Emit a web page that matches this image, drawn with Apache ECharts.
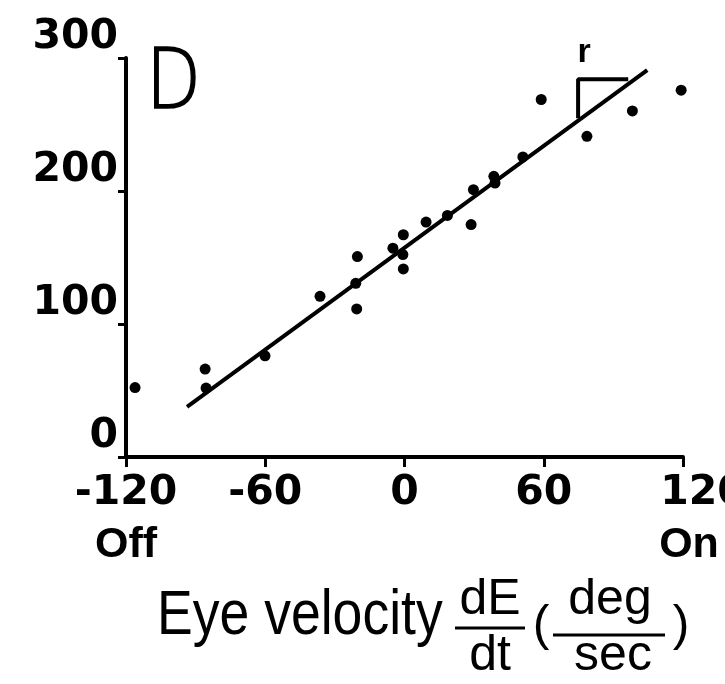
<!DOCTYPE html>
<html>
<head>
<meta charset="utf-8">
<script src="https://cdn.jsdelivr.net/npm/echarts@6/dist/echarts.min.js"></script>
<style>
html,body{margin:0;padding:0;background:#fff;}
#c{width:725px;height:684px;}
</style>
</head>
<body>
<div id="c"></div>
<script>
// Data (eye velocity deg/sec vs firing rate)
const eyeVelocity = [-116.1, -85.9, -85.5, -60.1, -36.4, -20.3, -21.0, -20.6, -5.0, -0.5, -0.7, -0.5, 9.3, 18.5, 28.7, 29.7, 38.5, 39.0, 51.0, 58.9, 78.6, 98.2, 119.2];
const firingRate  = [52.2, 66.1, 51.8, 76.1, 120.8, 150.7, 130.6, 111.3, 157.0, 167.1, 152.2, 141.4, 176.6, 181.6, 174.8, 201.0, 211.0, 206.0, 225.6, 268.8, 241.1, 260.2, 275.8];
const fitLineX = [-93.7, 104.6];
const fitLineY = [37.7, 290.9];
const rMarkX = [74.8, 74.8, 96.4];
const rMarkY = [254.7, 284, 284];
const xTickLabels = {'-120': '-120', '-60': '-60', '0': '0', '60': '60', '120': '120'};
const xSubLabels = {'-120': 'Off', '120': 'On'};
const yTickLabels = {'0': '0', '100': '100', '200': '200', '300': '300'};

const pts = eyeVelocity.map((x, i) => [x, firingRate[i]]);
const fit = fitLineX.map((x, i) => [x, fitLineY[i]]);
const rMark = rMarkX.map((x, i) => [x, rMarkY[i]]);

const chart = echarts.init(document.getElementById('c'));
const labelFont = 'DejaVu Sans';
chart.setOption({
  backgroundColor: '#fff',
  animation: false,
  grid: {left: 126, right: 42, top: 58, bottom: 227, containLabel: false, outerBoundsMode: 'none'},
  xAxis: {
    type: 'value', min: -120, max: 120, interval: 60,
    axisLine: {show: true, onZero: false, lineStyle: {color: '#000', width: 4}},
    axisTick: {show: true, length: 10, lineStyle: {color: '#000', width: 3}},
    splitLine: {show: false},
    axisLabel: {
      margin: 10,
      hideOverlap: false,
      showMinLabel: true, showMaxLabel: true,
      formatter: v => {
        const k = String(v);
        const main = xTickLabels[k];
        const sub = xSubLabels[k];
        if (k === '120') return '{e|' + main + '}\n{s2|' + sub + '}';
        return sub ? '{m|' + main + '}\n{s|' + sub + '}' : '{m|' + main + '}';
      },
      rich: {
        m: {fontFamily: labelFont, fontWeight: 'bold', fontSize: 41, color: '#000', lineHeight: 52},
        e: {fontFamily: labelFont, fontWeight: 'bold', fontSize: 41, color: '#000', lineHeight: 52, padding: [0, 0, 0, 40]},
        s: {fontFamily: 'Liberation Sans', fontWeight: 'bold', fontSize: 43, color: '#000', lineHeight: 52},
        s2: {fontFamily: 'Liberation Sans', fontWeight: 'bold', fontSize: 43, color: '#000', lineHeight: 52, padding: [0, 0, 0, 12]}
      }
    }
  },
  yAxis: {
    type: 'value', min: 0, max: 300, interval: 100,
    axisLine: {show: true, onZero: false, lineStyle: {color: '#000', width: 4}},
    axisTick: {show: true, length: 8, lineStyle: {color: '#000', width: 3}},
    splitLine: {show: false},
    axisLabel: {
      margin: 8,
      verticalAlign: 'bottom',
      fontFamily: labelFont, fontWeight: 'bold', fontSize: 41, color: '#000',
      formatter: v => yTickLabels[String(v)]
    }
  },
  series: [
    {
      type: 'line', data: fit, showSymbol: false, symbol: 'none',
      lineStyle: {color: '#000', width: 4}, silent: true, z: 2
    },
    {
      type: 'line', data: rMark, showSymbol: false, symbol: 'none',
      lineStyle: {color: '#000', width: 4}, silent: true, z: 2
    },
    {
      type: 'scatter', data: pts, symbol: 'circle', symbolSize: 11,
      itemStyle: {color: '#000', opacity: 1}, z: 3
    }
  ],
  graphic: [
    {type: 'text', x: 146, y: 86, scaleX: 0.85, style: {text: 'D', font: '200 84px "DejaVu Sans"', fill: '#000', stroke: '#000', lineWidth: 1.6, textAlign: 'left', textVerticalAlign: 'middle'}},
    {type: 'text', x: 584, y: 53, style: {text: 'r', font: 'bold 34px "Liberation Sans"', fill: '#000', textAlign: 'center', textVerticalAlign: 'middle'}},
    {type: 'text', x: 157, y: 617, scaleX: 0.85, style: {text: 'Eye velocity', font: '63px "Liberation Sans"', fill: '#000', textAlign: 'left', textVerticalAlign: 'middle'}},
    {type: 'text', x: 490, y: 600, style: {text: 'dE', font: '50px "Liberation Sans"', fill: '#000', textAlign: 'center', textVerticalAlign: 'middle'}},
    {type: 'line', shape: {x1: 455, y1: 628, x2: 525, y2: 628}, style: {stroke: '#000', lineWidth: 3}},
    {type: 'text', x: 490, y: 656, style: {text: 'dt', font: '50px "Liberation Sans"', fill: '#000', textAlign: 'center', textVerticalAlign: 'middle'}},
    {type: 'text', x: 541, y: 626, style: {text: '(', font: '50px "Liberation Sans"', fill: '#000', textAlign: 'center', textVerticalAlign: 'middle'}},
    {type: 'text', x: 610, y: 600, style: {text: 'deg', font: '50px "Liberation Sans"', fill: '#000', textAlign: 'center', textVerticalAlign: 'middle'}},
    {type: 'line', shape: {x1: 553, y1: 635, x2: 665, y2: 635}, style: {stroke: '#000', lineWidth: 3}},
    {type: 'text', x: 613, y: 656, style: {text: 'sec', font: '50px "Liberation Sans"', fill: '#000', textAlign: 'center', textVerticalAlign: 'middle'}},
    {type: 'text', x: 681, y: 626, style: {text: ')', font: '50px "Liberation Sans"', fill: '#000', textAlign: 'center', textVerticalAlign: 'middle'}}
  ]
});
</script>
</body>
</html>
